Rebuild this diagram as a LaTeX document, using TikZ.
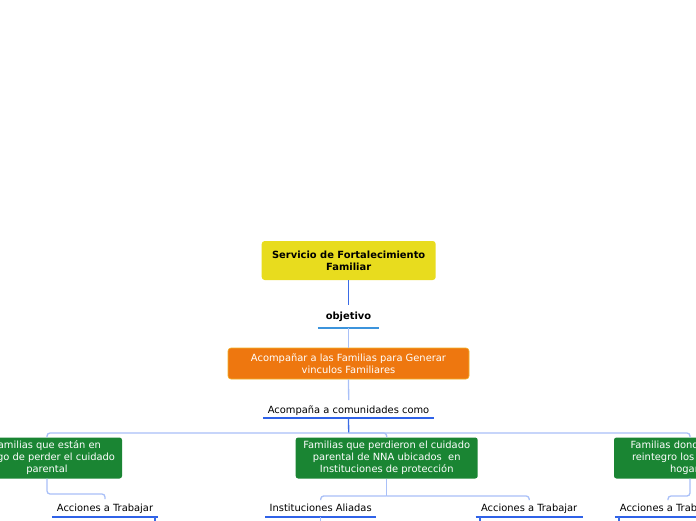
\documentclass[tikz,border=0pt]{standalone}
\usepackage{fontspec}
\setmainfont{DejaVu Sans}
\definecolor{cyel}{HTML}{E8DC1E}
\definecolor{corg}{HTML}{EE770F}
\definecolor{corgb}{HTML}{F3B227}
\definecolor{cgrn}{HTML}{1A8533}
\definecolor{cdark}{HTML}{3A6BE6}
\definecolor{clight}{HTML}{A9C0F8}
\definecolor{cul}{HTML}{2F62E8}
\definecolor{culo}{HTML}{3C94DC}
\begin{document}
\begin{tikzpicture}[x=1pt,y=-1pt,
  txt/.style={font=\fontsize{9.9}{12}\selectfont, align=center},
  rootbox/.style={txt, font=\fontsize{9.9}{12}\selectfont\bfseries, fill=cyel, rounded corners=3pt,
     minimum width=174pt, minimum height=39pt, inner sep=0pt, text=black},
  orgbox/.style={txt, fill=corg, draw=corgb, line width=0.6pt, rounded corners=3pt,
     minimum width=241pt, minimum height=31pt, inner sep=0pt, text=white},
  grnbox/.style={txt, fill=cgrn, rounded corners=2.5pt, minimum height=41pt,
     inner sep=0pt, text=white},
  lab/.style={txt, anchor=south, inner sep=0pt, text height=7.5pt},
  ulo/.style={culo, line width=1.2pt},
  ul/.style={cul, line width=1.3pt},
  dk/.style={cdark, line width=1.3pt},
  lt/.style={clight, line width=1.3pt},
  ltr/.style={lt, rounded corners=3pt},
]
\useasboundingbox[fill=white] (0,0) rectangle (696,520);

\node[rootbox] (root) at (348.7,260.5) {Servicio de Fortalecimiento\\Familiar};
\node[lab, font=\fontsize{9.9}{12}\selectfont\bfseries, minimum width=61pt, text depth=8pt] (obj) at (348.5,328) {objetivo};
\node[orgbox] (acomp) at (348.5,363.5) {Acompañar a las Familias para Generar\\vinculos Familiares};
\node[lab, minimum width=170pt, text depth=4.6pt] (com) at (348.5,418) {Acompaña a comunidades como};

\node[grnbox, minimum width=150pt] (f1) at (47,458) {Familias que están en\\riesgo de perder el cuidado\\parental};
\node[grnbox, minimum width=182pt] (f2) at (386.7,458) {Familias que perdieron el cuidado\\parental de NNA ubicados\ \ en\\Instituciones de protección};
\node[grnbox, minimum width=152pt] (f3) at (690,458) {Familias donde se dio el\\reintegro los NNA a sus\\hogares};

\node[lab, minimum width=106pt, text depth=5.3pt] (a1) at (105,517) {Acciones a Trabajar};
\node[lab, minimum width=111pt, text depth=5.3pt] (i2) at (320.7,517) {Instituciones Aliadas};
\node[lab, minimum width=107pt, text depth=5.3pt] (a2) at (529.2,517) {Acciones a Trabajar};
\node[lab, minimum width=106pt, text depth=5.3pt] (a3) at (668,517) {Acciones a Trabajar};

% underlines
\draw[ulo] (obj.south west) -- (obj.south east);
\draw[ul] (com.south west) -- (com.south east);
\foreach \n in {a1,i2,a2,a3}
  \draw[ul] (\n.south west) -- (\n.south east);

% connectors
\coordinate (objtop) at (348.7,305);
\coordinate (comtop) at (348.7,400);
\coordinate (bus) at (348.7,433);
\draw[dk] (root.south) -- (objtop);
\draw[lt] (obj.south) -- (acomp.north);
\draw[lt] (acomp.south) -- (comtop);
\draw[dk] (com.south) -- (bus);
\draw[ltr] (bus) -| (f1.north);
\draw[ltr] (bus) -| (f3.north);
\draw[ltr] (bus) -| (f2.north);

\coordinate (b1) at (105,499);
\coordinate (b2) at (386.7,496);
\coordinate (b2l) at (320.7,500);
\coordinate (b2r) at (529.2,500);
\coordinate (b3) at (668,500);
\draw[ltr] (f1.south) |- (105,494) -- (b1);
\draw[lt] (f2.south) -- (b2);
\draw[ltr] (b2) -| (b2l);
\draw[ltr] (b2) -| (b2r);
\draw[ltr] (f3.south) |- (668,496) -- (b3);

% stubs to the next level
\coordinate (c1) at (155,522);
\coordinate (c2) at (320.7,522);
\coordinate (c3) at (480,522);
\coordinate (c4) at (619,522);
\draw[dk] (155,517) -- (c1);
\draw[lt] (i2.south) -- (c2);
\draw[dk] (480,517) -- (c3);
\draw[dk] (619,517) -- (c4);
\end{tikzpicture}
\end{document}
